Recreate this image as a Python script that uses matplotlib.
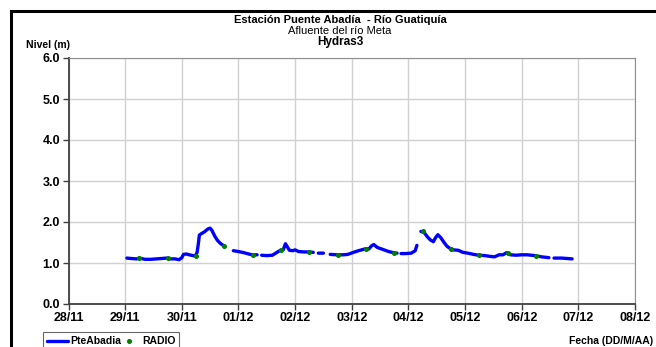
import numpy as np
import matplotlib
matplotlib.use("Agg")
from matplotlib import pyplot as plt
from matplotlib.patches import Rectangle

plt.rcParams['font.family'] = ['Liberation Sans', 'DejaVu Sans']

W, H = 656, 347

# Nivel PteAbadia: (día desde 28/11, nivel en m); None corta la línea
nivel_dias = [1.03, 1.10, 1.20, 1.25, 1.35, 1.45, 1.55, 1.65, 1.73, 1.80, 1.88, 1.95,
              2.00, 2.03, 2.08, 2.13, 2.20, 2.24, 2.27, 2.29, 2.31, 2.35, 2.40, 2.46,
              2.50, 2.53, 2.58, 2.63, 2.68, 2.75, None,
              2.91, 3.00, 3.10, 3.18, 3.24, 3.33, None,
              3.41, 3.50, 3.60, 3.68, 3.74, 3.79, 3.83, 3.86, 3.90, 3.96, 4.00, 4.06,
              4.15, 4.24, 4.32, None,
              4.41, 4.50, None,
              4.62, 4.74, 4.85, 4.93, 5.03, 5.12, 5.20, 5.25, 5.30, 5.35, 5.39, 5.45,
              5.55, 5.65, 5.74, 5.80, None,
              5.87, 5.95, 6.05, 6.12, 6.15, None,
              6.22, 6.28, 6.34, 6.39, 6.44, 6.48, 6.52, 6.57, 6.63, 6.68, 6.74, 6.80,
              6.88, 6.96, 7.05, 7.15, 7.24, 7.35, 7.45, 7.52, 7.60, 7.67, 7.73, 7.80,
              7.90, 8.00, 8.10, 8.23, 8.35, 8.48, None,
              8.57, 8.70, 8.80, 8.89]
nivel_m = [1.12, 1.11, 1.10, 1.12, 1.09, 1.09, 1.10, 1.11, 1.12, 1.10, 1.10, 1.08,
           1.13, 1.21, 1.22, 1.20, 1.18, 1.17, 1.26, 1.45, 1.68, 1.72, 1.76, 1.83,
           1.85, 1.80, 1.66, 1.55, 1.48, 1.41, None,
           1.30, 1.28, 1.25, 1.22, 1.20, 1.20, None,
           1.19, 1.18, 1.19, 1.26, 1.31, 1.32, 1.47, 1.40, 1.31, 1.30, 1.32, 1.28,
           1.27, 1.27, 1.26, None,
           1.24, 1.24, None,
           1.21, 1.20, 1.20, 1.21, 1.26, 1.30, 1.33, 1.35, 1.34, 1.42, 1.45, 1.38,
           1.33, 1.28, 1.25, 1.24, None,
           1.23, 1.23, 1.24, 1.30, 1.43, None,
           1.77, 1.74, 1.63, 1.56, 1.52, 1.62, 1.69, 1.62, 1.50, 1.41, 1.35, 1.32,
           1.31, 1.26, 1.24, 1.21, 1.19, 1.18, 1.16, 1.15, 1.20, 1.20, 1.25, 1.20,
           1.19, 1.20, 1.20, 1.18, 1.15, 1.13, None,
           1.12, 1.12, 1.11, 1.10]

# Lecturas RADIO cada 12 h
radio_dias = [1.25, 1.75, 2.25, 2.75, 3.25, 3.75, 4.25, 4.75, 5.25, 5.75,
              6.25, 6.75, 7.25, 7.75, 8.25]
radio_m = [1.12, 1.12, 1.17, 1.41, 1.20, 1.31, 1.28, 1.20, 1.35, 1.25,
           1.77, 1.34, 1.19, 1.25, 1.18]

fechas = ['28/11', '29/11', '30/11', '01/12', '02/12', '03/12',
          '04/12', '05/12', '06/12', '07/12', '08/12']
niveles = [0, 1, 2, 3, 4, 5, 6]


def px(x, y):
    return x / W, 1 - y / H


x = np.array([np.nan if v is None else v for v in nivel_dias], dtype=float)
y = np.array([np.nan if v is None else v for v in nivel_m], dtype=float)

fig = plt.figure(figsize=(W / 100, H / 100), dpi=100)
ax = fig.add_axes([68.5 / W, 1 - 304 / H, (635 - 68.5) / W, (304 - 58) / H])

ax.plot(x, y, color='#0000FF', lw=2.4, solid_capstyle='round', label='PteAbadia', zorder=3)
ax.plot(radio_dias, radio_m, 'o', color='#008000', ms=2.6, mec='#008000',
        lw=0, label='RADIO', zorder=4)

ax.set_xlim(0, len(fechas) - 1)
ax.set_ylim(niveles[0], niveles[-1])
ax.set_xticks(range(len(fechas)))
ax.set_xticklabels(fechas)
ax.set_yticks(niveles)
ax.set_yticklabels([f'{v:.1f}' for v in niveles])
ax.grid(True, color='#D0D0D0', lw=1.0)
ax.set_axisbelow(True)

for t in ax.get_xticklabels() + ax.get_yticklabels():
    t.set_fontweight('bold')
    t.set_fontsize(9)
ax.tick_params(axis='both', length=4, width=1, color='#404040', pad=2)
ax.spines['left'].set_color('#404040')
ax.spines['bottom'].set_color('#404040')
ax.spines['left'].set_linewidth(1.3)
ax.spines['bottom'].set_linewidth(1.3)
ax.spines['top'].set_color('#909090')
ax.spines['right'].set_color('#909090')

# Marco negro de la figura
fig.patches.append(Rectangle(px(11, 400), 700 / W, 389 / H, transform=fig.transFigure,
                             fill=False, ec='black', lw=2.2, clip_on=False))

fig.text(*px(340, 20), 'Estación Puente Abadía  - Río Guatiquía', ha='center', va='center',
         fontsize=8, fontweight='bold')
fig.text(*px(340, 31), 'Afluente del río Meta', ha='center', va='center', fontsize=8)
fig.text(*px(340, 42), 'Hydras3', ha='center', va='center', fontsize=8.5, fontweight='bold')
fig.text(*px(26, 45), 'Nivel (m)', ha='left', va='center', fontsize=7.5, fontweight='bold')
fig.text(*px(653, 341), 'Fecha (DD/M/AA)', ha='right', va='center', fontsize=7.5,
         fontweight='bold')

leg = fig.legend(loc='upper left', bbox_to_anchor=px(43, 332), ncol=2, fontsize=7.5,
                 frameon=True, fancybox=False, edgecolor='#404040', handlelength=2.0,
                 columnspacing=-0.2, borderpad=0.4, handletextpad=0.2,
                 borderaxespad=0)
for t in leg.get_texts():
    t.set_fontweight('bold')
leg.get_frame().set_linewidth(0.8)

fig.savefig('out.png', dpi=100)
